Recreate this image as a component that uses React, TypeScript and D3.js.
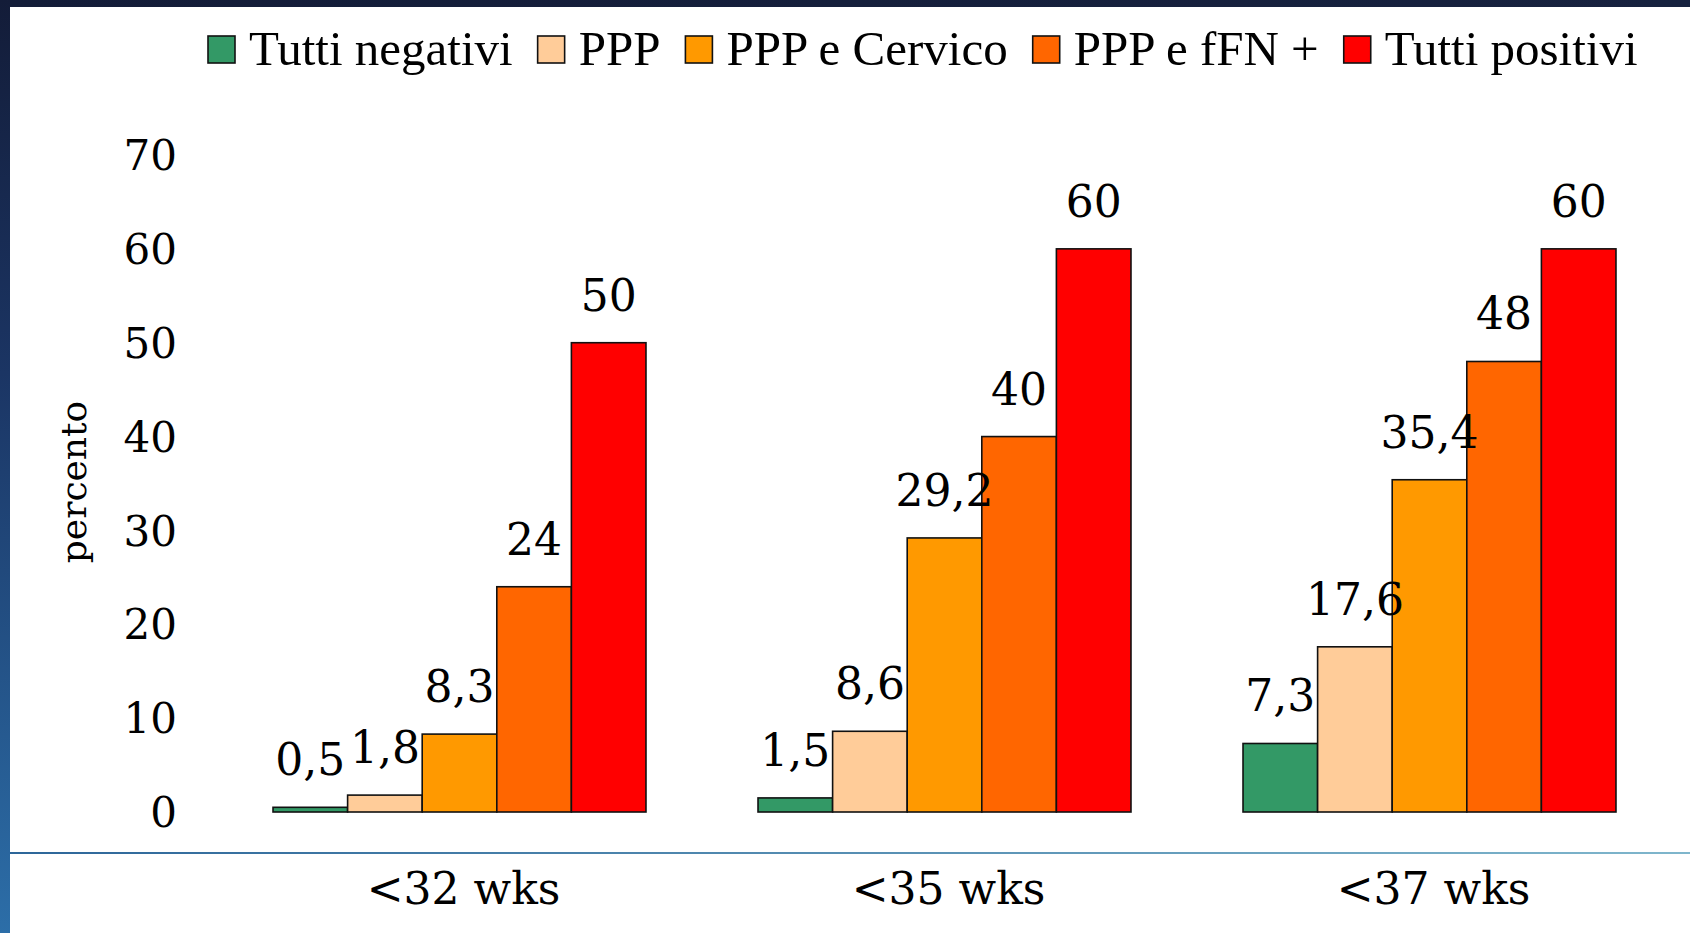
import React, { useEffect, useRef } from "react";
import * as d3 from "d3";

const categories = ["<32 wks", "<35 wks", "<37 wks"];
const seriesNames = ["Tutti negativi", "PPP", "PPP e Cervico", "PPP e fFN +", "Tutti positivi"];
const seriesColors = ["#339966", "#FFCC99", "#FF9900", "#FF6600", "#FF0000"];
const tuttiNegativi = [0.5, 1.5, 7.3];
const ppp = [1.8, 8.6, 17.6];
const pppCervico = [8.3, 29.2, 35.4];
const pppFfn = [24, 40, 48];
const tuttiPositivi = [50, 60, 60];
const yTicks = [0, 10, 20, 30, 40, 50, 60, 70];
const yLabel = "percento";

const W = 1690;
const H = 933;

export default function App() {
  const ref = useRef<SVGSVGElement | null>(null);

  useEffect(() => {
    document.body.style.margin = "0";
    document.body.style.overflow = "hidden";
    const svg = d3.select(ref.current);
    svg.selectAll("*").remove();

    const values = [tuttiNegativi, ppp, pppCervico, pppFfn, tuttiPositivi];
    const locale = d3.formatLocale({ decimal: ",", thousands: ".", grouping: [3], currency: ["", "€"] });
    const fmt = locale.format("~g");

    const defs = svg.append("defs");
    const lg = defs.append("linearGradient").attr("id", "leftbar").attr("x1", 0).attr("y1", 0).attr("x2", 0).attr("y2", 1);
    lg.append("stop").attr("offset", "0%").attr("stop-color", "#131c38");
    lg.append("stop").attr("offset", "40%").attr("stop-color", "#1b3564");
    lg.append("stop").attr("offset", "100%").attr("stop-color", "#2c6ea8");
    const hg = defs.append("linearGradient").attr("id", "hline").attr("x1", 0).attr("y1", 0).attr("x2", 1).attr("y2", 0);
    hg.append("stop").attr("offset", "0%").attr("stop-color", "#2d6699");
    hg.append("stop").attr("offset", "100%").attr("stop-color", "#7fb6cc");
    const tg = defs.append("linearGradient").attr("id", "topbar").attr("x1", 0).attr("y1", 0).attr("x2", 1).attr("y2", 0);
    tg.append("stop").attr("offset", "0%").attr("stop-color", "#131c38");
    tg.append("stop").attr("offset", "100%").attr("stop-color", "#17223f");

    svg.append("rect").attr("x", 0).attr("y", 0).attr("width", W).attr("height", H).attr("fill", "#ffffff");
    svg.append("rect").attr("x", 0).attr("y", 0).attr("width", W).attr("height", 7).attr("fill", "url(#topbar)");
    svg.append("rect").attr("x", 0).attr("y", 0).attr("width", 10).attr("height", H).attr("fill", "url(#leftbar)");
    svg.append("rect").attr("x", 10).attr("y", 852).attr("width", W - 10).attr("height", 2).attr("fill", "url(#hline)");

    const y = d3.scaleLinear().domain([0, 70]).range([812, 155]);
    const x0 = d3.scaleBand().domain(categories).range([217, 1672]).paddingInner(0.231).paddingOuter(0.1155);
    const x1 = d3.scaleBand().domain(seriesNames).range([0, x0.bandwidth()]).padding(0);

    // y tick labels
    svg.append("g")
      .selectAll("text")
      .data(yTicks)
      .join("text")
      .attr("x", 177)
      .attr("y", (d) => y(d))
      .attr("dy", "0.36em")
      .attr("text-anchor", "end")
      .attr("font-family", "'DejaVu Serif', serif")
      .attr("font-size", 42)
      .attr("fill", "#000")
      .text((d) => String(d));

    // y axis label
    svg.append("text")
      .attr("transform", `translate(86, 482) rotate(-90)`)
      .attr("text-anchor", "middle")
      .attr("font-family", "'DejaVu Serif', serif")
      .attr("font-size", 36)
      .attr("fill", "#000")
      .text(yLabel);

    // bars
    const groups = svg.append("g")
      .selectAll("g")
      .data(categories)
      .join("g")
      .attr("transform", (c) => `translate(${x0(c)},0)`);

    groups.each(function (c, ci) {
      const g = d3.select(this);
      const data = seriesNames.map((s, si) => ({ s, si, v: values[si][ci] }));
      g.selectAll("rect")
        .data(data)
        .join("rect")
        .attr("x", (d) => x1(d.s)!)
        .attr("y", (d) => y(d.v))
        .attr("width", x1.bandwidth())
        .attr("height", (d) => y(0) - y(d.v))
        .attr("fill", (d) => seriesColors[d.si])
        .attr("stroke", "#111")
        .attr("stroke-width", 1.6);
      g.selectAll("text")
        .data(data)
        .join("text")
        .attr("x", (d) => x1(d.s)! + x1.bandwidth() / 2)
        .attr("y", (d) => y(d.v) - 32)
        .attr("text-anchor", "middle")
        .attr("font-family", "'DejaVu Serif', serif")
        .attr("font-size", 44)
        .attr("fill", "#000")
        .text((d) => fmt(d.v));
    });

    // category labels
    svg.append("g")
      .selectAll("text")
      .data(categories)
      .join("text")
      .attr("x", (c) => x0(c)! + x0.bandwidth() / 2 + 4)
      .attr("y", 904)
      .attr("text-anchor", "middle")
      .attr("font-family", "'DejaVu Serif', serif")
      .attr("font-size", 44)
      .attr("fill", "#000")
      .text((c) => c);

    // legend
    const legend = svg.append("g");
    let lx = 208;
    seriesNames.forEach((s, i) => {
      legend.append("rect")
        .attr("x", lx)
        .attr("y", 36)
        .attr("width", 27)
        .attr("height", 27)
        .attr("fill", seriesColors[i])
        .attr("stroke", "#111")
        .attr("stroke-width", 1.6);
      const t = legend.append("text")
        .attr("x", lx + 27 + 14)
        .attr("y", 65)
        .attr("font-family", "'Liberation Serif', serif")
        .attr("font-size", 49)
        .attr("fill", "#000")
        .text(s);
      const w = (t.node() as SVGTextElement).getComputedTextLength();
      lx = lx + 27 + 14 + w + 25;
    });
  }, []);

  return (
    <svg
      ref={ref}
      width={W}
      height={H}
      style={{ position: "absolute", left: 0, top: 0, display: "block" }}
    />
  );
}
